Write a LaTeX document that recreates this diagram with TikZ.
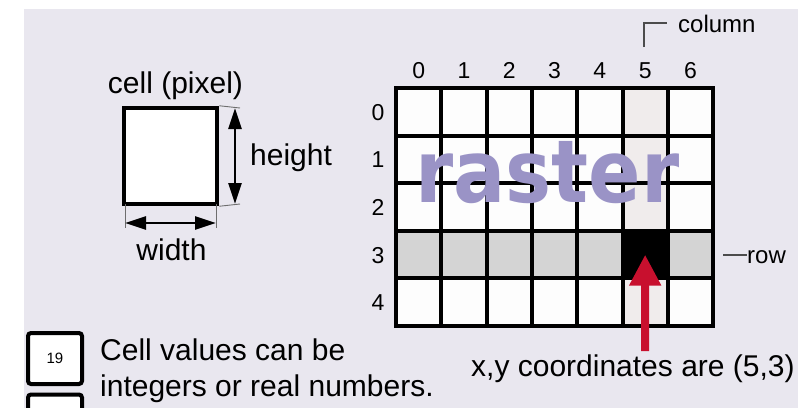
\documentclass[tikz,border=0pt]{standalone}
\usepackage{fontspec}
\setmainfont{Liberation Sans}
\newfontfamily\rasterfont{DejaVu Sans}
\usetikzlibrary{arrows.meta}
\definecolor{panel}{RGB}{233,231,239}
\definecolor{cellwhite}{RGB}{253,253,253}
\definecolor{coltint}{RGB}{240,236,236}
\definecolor{rowgrey}{RGB}{212,212,212}
\definecolor{rasterblue}{RGB}{154,147,198}
\definecolor{arrowred}{RGB}{200,16,46}
\definecolor{extgrey}{RGB}{110,110,110}
\tikzset{
  gridcell/.style={draw=black, line width=4pt, minimum width=45.3pt, minimum height=47.6pt, inner sep=0pt, outer sep=0pt},
  bigtext/.style={font=\fontsize{30}{36}\selectfont, inner sep=0pt, anchor=base west},
  smalltext/.style={font=\fontsize{24}{28}\selectfont, inner sep=0pt},
  digit/.style={font=\fontsize{23}{27}\selectfont, inner sep=0pt, anchor=base},
  extline/.style={draw=extgrey, line width=0.9pt},
  dimarrow/.style={line width=2.6pt, {Triangle[length=21pt,width=13pt]}-{Triangle[length=21pt,width=13pt]}},
  redarrow/.style={draw=arrowred, line width=8pt, -{Triangle[length=31pt,width=30pt]}},
  valbox/.style={draw=black, fill=white, line width=4pt, rounded corners=3pt, inner sep=0pt, minimum width=54pt, minimum height=51pt}
}
\begin{document}
\begin{tikzpicture}[x=1pt,y=-1pt]
\useasboundingbox (0,0) rectangle (810,407);
\clip (0,0) rectangle (810,407);
\fill[white] (0,0) rectangle (810,407);
\fill[panel] (24,9) rectangle (798,420);

% single cell
\node[draw=black, fill=white, line width=4.5pt, minimum width=93pt, minimum height=96pt, inner sep=0pt] (pix) at (170.5,156) {};
\node[bigtext, anchor=base] (pixlabel) at (175.5,93) {cell (pixel)};
\coordinate (ht) at (235,108);
\coordinate (hb) at (235,204);
\draw[extline] (pix.north east) -- (240,108);
\draw[extline] (pix.south east) -- (240,204);
\draw[dimarrow] (ht) -- (hb);
\node[bigtext] (hlabel) at (250,165) {height};
\coordinate (wl) at (125,223);
\coordinate (wr) at (216,223);
\draw[extline] (125,204) -- (125,228);
\draw[extline] (216,204) -- (216,228);
\draw[dimarrow] (wl) -- (wr);
\node[bigtext, anchor=base] (wlabel) at (171.5,260) {width};

% grid
\foreach \i in {0,1,2,3,4,6} {
  \foreach \j in {0,1,2,4} {
    \node[gridcell, fill=cellwhite] (c-\i-\j) at ({396+45.3*(\i+0.5)},{88+47.6*(\j+0.5)}) {};
  }
  \node[gridcell, fill=rowgrey] (c-\i-3) at ({396+45.3*(\i+0.5)},{88+47.6*3.5}) {};
}
\foreach \j in {0,1,2,4} {
  \node[gridcell, fill=coltint] (c-5-\j) at ({396+45.3*5.5},{88+47.6*(\j+0.5)}) {};
}
\node[gridcell, fill=black] (c-5-3) at ({396+45.3*5.5},{88+47.6*3.5}) {};

% column and row numbers
\foreach \i in {0,...,6} {
  \node[digit] (col-\i) at ({396+45.3*(\i+0.5)},78) {\i};
}
\foreach \j in {0,...,4} {
  \node[digit] (row-\j) at (378,{88+47.6*(\j+0.5)+8.5}) {\j};
}

% raster word
\node[font=\rasterfont\bfseries\fontsize{87}{90}\selectfont, text=rasterblue, inner sep=0pt, anchor=base, xscale=0.89, transform shape] (rasterword) at (547.5,202) {raster};

% column label
\node[smalltext, anchor=base west] (colname) at (678,32) {column};
\coordinate (colA) at (644,47);
\coordinate (colB) at (644,23);
\coordinate (colC) at (667,23);
\draw[line width=1.2pt, black!70] (colA) -- (colB) -- (colC);

% row label
\node[smalltext, anchor=base west] (rowname) at (747,263) {row};
\coordinate (rowA) at (723,255);
\draw[line width=1.2pt, black!70] (rowA) -- (rowname.west |- rowA);

% red arrow
\coordinate (arrowtail) at (645.2,351);
\draw[redarrow] (arrowtail) -- (c-5-3.center);
\node[bigtext] (coordtext) at (471,376) {x,y coordinates are (5,3)};

% value boxes
\node[valbox] (box19) at (55,358.5) {\fontsize{15}{18}\selectfont 19};
\node[valbox] (box2) at (55,420) {};
\node[bigtext] (vals1) at (100,360) {Cell values can be};
\node[bigtext] (vals2) at (100,396) {integers or real numbers.};
\end{tikzpicture}
\end{document}
